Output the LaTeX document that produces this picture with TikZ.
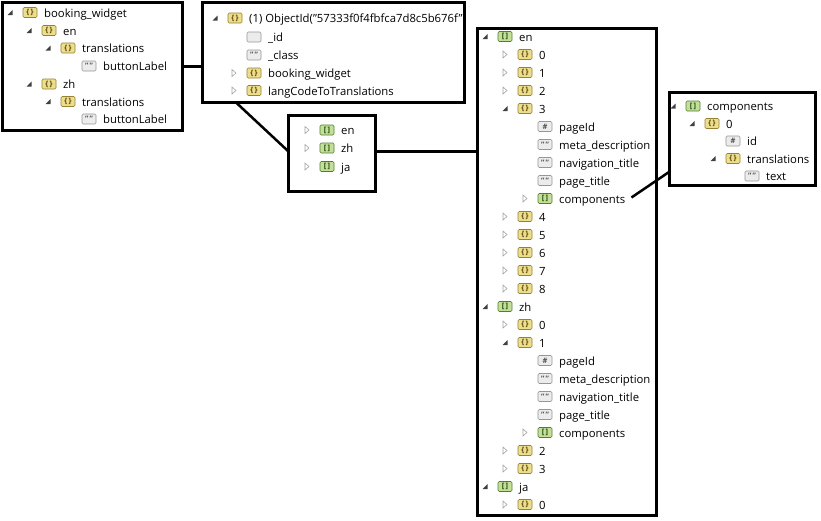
\documentclass[tikz,border=0pt]{standalone}
\usepackage{fontspec}
\setmainfont{Open Sans}
\definecolor{objfill}{RGB}{236,222,140}
\definecolor{objdraw}{RGB}{150,130,50}
\definecolor{objtext}{RGB}{90,70,10}
\definecolor{arrfill}{RGB}{196,224,150}
\definecolor{arrdraw}{RGB}{80,125,55}
\definecolor{arrtext}{RGB}{30,70,20}
\definecolor{strfill}{RGB}{236,236,236}
\definecolor{strdraw}{RGB}{150,150,150}
\definecolor{strtext}{RGB}{80,80,80}
\definecolor{tridark}{RGB}{64,64,64}
\definecolor{trilight}{RGB}{165,165,165}
\tikzset{
  boxst/.style={draw=black, line width=3pt},
  conn/.style={draw=black, line width=3pt},
  icbase/.style={rectangle, rounded corners=1.2pt, minimum width=14pt, minimum height=10pt, inner sep=0pt, line width=0.6pt, font=\fontsize{7.5}{7.5}\selectfont\bfseries},
  icobj/.style={icbase, fill=objfill, draw=objdraw, text=objtext},
  icarr/.style={icbase, fill=arrfill, draw=arrdraw, text=arrtext},
  icstr/.style={icbase, fill=strfill, draw=strdraw, text=strtext},
  icnum/.style={icbase, fill=strfill, draw=strdraw, text=strtext},
  icemp/.style={icbase, fill=strfill, draw=strdraw},
  rt/.style={anchor=west, inner sep=0pt, text height=10pt, text depth=1pt, font=\fontsize{11.3}{13}\selectfont, text=black},
}
\newcommand\iccobj{\{\,\}}
\newcommand\iccarr{[\,]}
\newcommand\iccstr{\symbol{34}\,\symbol{34}}
\newcommand\iccnum{\#}
\newcommand\iccemp{}
\newcommand\xtrie[2]{\fill[tridark] ({#1+2.5},{#2-2.5}) -- ({#1+2.5},{#2+2.5}) -- ({#1-2.5},{#2+2.5}) -- cycle;}
\newcommand\xtric[2]{\draw[trilight, fill=white, line width=0.6pt] ({#1-2},{#2-3.5}) -- ({#1-2},{#2+3.5}) -- ({#1+2},{#2}) -- cycle;}
\newcommand\xtrin[2]{}
\newcommand\trow[6]{%
  \csname xtri#4\endcsname{#2}{#3}%
  \node[ic#5] (#1i) at ({#2+20},{#3}) {\csname icc#5\endcsname};
  \node[rt] (#1) at ({#2+34},{#3}) {#6};
}
\begin{document}
\begin{tikzpicture}[x=1pt,y=-1pt]
\useasboundingbox[fill=white] (0,0) rectangle (821,520);
% boxes
\draw[boxst] (2.5,2) rectangle (182.5,130.5);
\draw[boxst] (202,2) rectangle (464,102);
\draw[boxst] (288,115) rectangle (375,191.5);
\draw[boxst] (477,28.5) rectangle (656.5,515);
\draw[boxst] (669,92) rectangle (815.5,185.5);
\coordinate (bAr) at (182.5,66);
\coordinate (bBl) at (202,66);
\coordinate (bBb) at (235.5,102);
\coordinate (bCl) at (288,151);
\coordinate (bCr) at (375,151.5);
\coordinate (bDl) at (477,151.5);
\coordinate (bEl) at (669,172);
% box A
\trow{a1}{10}{12.5}{e}{obj}{booking\_widget}
\trow{a2}{29}{30.5}{e}{obj}{en}
\trow{a3}{48}{48}{e}{obj}{translations}
\trow{a4}{69}{66}{n}{str}{buttonLabel}
\trow{a5}{29}{84}{e}{obj}{zh}
\trow{a6}{48}{101.5}{e}{obj}{translations}
\trow{a7}{69}{119}{n}{str}{buttonLabel}
% box B
\trow{b1}{215}{18}{e}{obj}{(1) ObjectId(\symbol{34}57333f0f4fbfca7d8c5b676f\symbol{34}}
\trow{b2}{234}{37}{n}{emp}{\_id}
\trow{b3}{234}{55}{n}{str}{\_class}
\trow{b4}{234}{73}{c}{obj}{booking\_widget}
\trow{b5}{234}{90.5}{c}{obj}{langCodeToTranslations}
% box C
\trow{c1}{307}{130}{c}{arr}{en}
\trow{c2}{307}{148}{c}{arr}{zh}
\trow{c3}{307}{166.5}{c}{arr}{ja}
% box D
\trow{d1}{485}{36.5}{e}{arr}{en}
\trow{d2}{505}{54.5}{c}{obj}{0}
\trow{d3}{505}{72.5}{c}{obj}{1}
\trow{d4}{505}{90.5}{c}{obj}{2}
\trow{d5}{505}{108.5}{e}{obj}{3}
\trow{d6}{525}{126.5}{n}{num}{pageId}
\trow{d7}{525}{144.5}{n}{str}{meta\_description}
\trow{d8}{525}{162.5}{n}{str}{navigation\_title}
\trow{d9}{525}{180.5}{n}{str}{page\_title}
\trow{d10}{525}{198.5}{c}{arr}{components}
\trow{d11}{505}{216.5}{c}{obj}{4}
\trow{d12}{505}{234.5}{c}{obj}{5}
\trow{d13}{505}{252.5}{c}{obj}{6}
\trow{d14}{505}{270.5}{c}{obj}{7}
\trow{d15}{505}{288.5}{c}{obj}{8}
\trow{d16}{485}{306.5}{e}{arr}{zh}
\trow{d17}{505}{324.5}{c}{obj}{0}
\trow{d18}{505}{342.5}{e}{obj}{1}
\trow{d19}{525}{360.5}{n}{num}{pageId}
\trow{d20}{525}{378.5}{n}{str}{meta\_description}
\trow{d21}{525}{396.5}{n}{str}{navigation\_title}
\trow{d22}{525}{414.5}{n}{str}{page\_title}
\trow{d23}{525}{432.5}{c}{arr}{components}
\trow{d24}{505}{450.5}{c}{obj}{2}
\trow{d25}{505}{468.5}{c}{obj}{3}
\trow{d26}{485}{486.5}{e}{arr}{ja}
\trow{d27}{505}{504.5}{c}{obj}{0}
% box E
\trow{e1}{673}{106}{e}{arr}{components}
\trow{e2}{692}{123.5}{e}{obj}{0}
\trow{e3}{713}{141}{n}{num}{id}
\trow{e4}{713}{158.5}{e}{obj}{translations}
\trow{e5}{732}{176}{n}{str}{text}
% connectors
\draw[conn] (bAr) -- (bBl);
\draw[conn, line width=2.5pt] (bBb) -- (bCl);
\draw[conn] (bCr) -- (bDl);
\draw[conn, line width=2.5pt] ([xshift=6pt,yshift=1pt]d10.east) -- (bEl);
\end{tikzpicture}
\end{document}
